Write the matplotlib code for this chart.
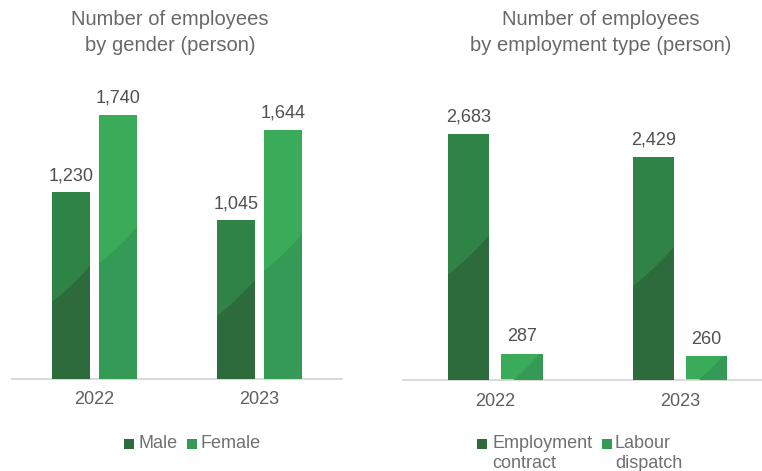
import matplotlib
matplotlib.use("Agg")
import matplotlib.pyplot as plt
import numpy as np
from matplotlib.patches import Polygon, Rectangle

# ---- data ----
years = ["2022", "2023"]
gender_labels = ["Male", "Female"]
male = [1230, 1045]
female = [1740, 1644]
type_labels = ["Employment\ncontract", "Labour\ndispatch"]
contract = [2683, 2429]
dispatch = [287, 260]

# ---- style ----
W, H = 762, 471
plt.rcParams["font.family"] = ["Liberation Sans", "DejaVu Sans"]
DARK_TOP, DARK_LOW = "#2f8347", "#2d6a3c"
LIGHT_TOP, LIGHT_LOW = "#3aab58", "#359a55"
TXT = "#5f5f5f"

fig = plt.figure(figsize=(W / 100, H / 100), dpi=100)


def px_axes(x0, x1, ytop, ybot):
    return fig.add_axes([x0 / W, 1 - ybot / H, (x1 - x0) / W, (ybot - ytop) / H])


def shade(ax, rect, low_color):
    """Darker lower region under a gently curved sweep, clipped to the bar."""
    to_disp = ax.transData
    (x0, y0) = to_disp.transform((rect.get_x(), 0))
    (x1, y1) = to_disp.transform((rect.get_x() + rect.get_width(), rect.get_height()))
    w = x1 - x0
    h = y1 - y0
    frac = 0.5 if h > 80 else 0.3
    xc = (x0 + x1) / 2
    yc = y0 + frac * h
    t = np.linspace(-w / 2 - 2, w / 2 + 2, 40)
    # slope grows from ~0.75 at the left edge to ~1.15 at the right edge
    k = 0.4 / (2 * w)
    ys = yc + 0.95 * t + k * t ** 2
    xs = xc + t
    pts = list(zip(xs, ys)) + [(x1 + 5, y0 - 5), (x0 - 5, y0 - 5)]
    data_pts = to_disp.inverted().transform(pts)
    poly = Polygon(data_pts, closed=True, facecolor=low_color, edgecolor="none", zorder=3)
    ax.add_patch(poly)
    poly.set_clip_path(rect)


def panel(ax, a_vals, b_vals, off, width, ylim_top, xlim_right):
    x = np.arange(len(years))
    ba = ax.bar(x - off, a_vals, width, color=DARK_TOP, zorder=2)
    bb = ax.bar(x + off, b_vals, width, color=LIGHT_TOP, zorder=2)
    ax.set_xlim(-0.5, xlim_right)
    ax.set_ylim(0, ylim_top)
    for s in ["left", "right", "top"]:
        ax.spines[s].set_visible(False)
    ax.spines["bottom"].set_color("#d3d3d3")
    ax.spines["bottom"].set_linewidth(1.2)
    ax.set_yticks([])
    ax.set_xticks(x)
    ax.set_xticklabels(years, fontsize=13, color=TXT)
    ax.tick_params(axis="x", length=0, pad=9)
    ax.patch.set_alpha(0)
    for bars in (ba, bb):
        ax.bar_label(bars, labels=[f"{v:,}" for v in bars.datavalues],
                     padding=6, fontsize=13, color="#505050")
    return ba, bb


# left panel: gender
axl = px_axes(12, 342, 60, 379)
ba, bb = panel(axl, male, female, 0.1424, 0.227, 319 / 0.1517, 1.5)
# right panel: employment type
axr = px_axes(403, 762, 60, 380)
ca, cb = panel(axr, contract, dispatch, 0.1448, 0.2246, 320 / 0.0917, 1.444)

fig.canvas.draw()
for ax, groups in ((axl, ((ba, DARK_LOW), (bb, LIGHT_LOW))),
                   (axr, ((ca, DARK_LOW), (cb, LIGHT_LOW)))):
    for bars, low in groups:
        for r in bars:
            shade(ax, r, low)

# titles
fig.text(170 / W, 1 - 32.5 / H, "Number of employees\nby gender (person)",
         ha="center", va="center", fontsize=14.5, color="#686868", linespacing=1.45)
fig.text(601 / W, 1 - 32.5 / H, "Number of employees\nby employment type (person)",
         ha="center", va="center", fontsize=14.5, color="#686868", linespacing=1.45)


# legends
def legend_item(xsq, ysq, color, label, xtxt):
    fig.patches.append(Rectangle((xsq / W, 1 - (ysq + 10) / H), 10 / W, 10 / H,
                                 transform=fig.transFigure, facecolor=color,
                                 edgecolor="none"))
    fig.text(xtxt / W, 1 - (ysq + 5) / H, label.split("\n")[0], ha="left",
             va="center", fontsize=13, color="#707070")
    rest = label.split("\n")[1:]
    for i, line in enumerate(rest):
        fig.text(xtxt / W, 1 - (ysq + 5 + 19 * (i + 1)) / H, line, ha="left",
                 va="center", fontsize=13, color="#707070")


legend_item(124, 439, DARK_LOW, gender_labels[0], 138)
legend_item(187, 439, LIGHT_LOW, gender_labels[1], 201)
legend_item(477, 439, DARK_LOW, type_labels[0], 492)
legend_item(602, 439, LIGHT_LOW, type_labels[1], 615)

fig.savefig("out.png", dpi=100)
